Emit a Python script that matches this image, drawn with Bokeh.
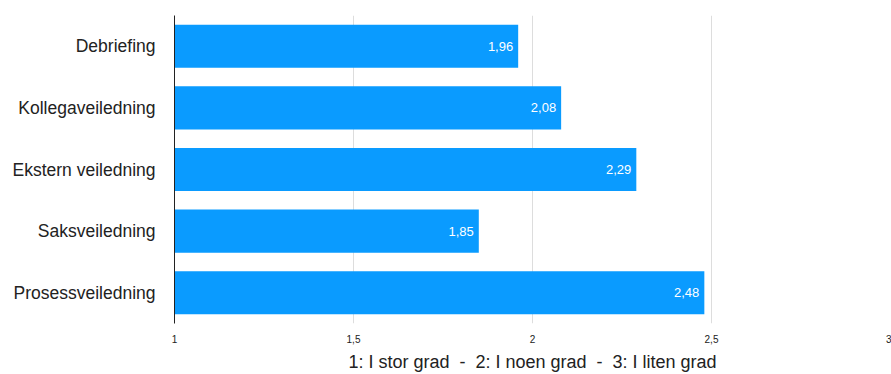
from bokeh.plotting import figure
from bokeh.models import ColumnDataSource, Range1d, FixedTicker, CustomJSTickFormatter, LabelSet
from bokeh.core.properties import value
from bokeh.embed import file_html
from bokeh.resources import INLINE

categories = ["Debriefing", "Kollegaveiledning", "Ekstern veiledning", "Saksveiledning", "Prosessveiledning"]
values = [1.96, 2.08, 2.29, 1.85, 2.48]
x_ticks = [1, 1.5, 2, 2.5, 3]
x_title = "1: I stor grad \u00a0-\u00a0 2: I noen grad \u00a0-\u00a0 3: I liten grad"

labels = [f"{v:.2f}".replace(".", ",") for v in values]
src = ColumnDataSource(dict(cat=categories, val=values, lab=labels, base=[1] * len(values)))

FONT = "Liberation Sans"

p = figure(width=891, height=374, y_range=list(reversed(categories)), x_range=Range1d(1, 3),
           output_backend="svg", toolbar_location=None,
           min_border_left=174, min_border_right=1, min_border_top=15, min_border_bottom=48)
p.outline_line_color = None

p.hbar(y="cat", left="base", right="val", height=0.7, source=src,
       fill_color="#0a9bff", line_color=None)

p.add_layout(LabelSet(x="val", y="cat", text="lab", source=src, x_offset=-5,
                      text_align="right", text_baseline="middle", text_color="white",
                      text_font=value(FONT), text_font_size="13px"))

p.xaxis.ticker = FixedTicker(ticks=x_ticks)
p.xaxis.formatter = CustomJSTickFormatter(code="return tick.toString().replace('.', ',');")
p.xaxis.axis_line_color = None
p.xaxis.major_tick_line_color = None
p.xaxis.minor_tick_line_color = None
p.xaxis.major_label_standoff = 5
p.xaxis.major_label_text_font = FONT
p.xaxis.major_label_text_font_size = "10px"
p.xaxis.major_label_text_color = "#222222"
p.xaxis.axis_label = x_title
p.xaxis.axis_label_text_font = FONT
p.xaxis.axis_label_text_font_style = "normal"
p.xaxis.axis_label_text_font_size = "18px"
p.xaxis.axis_label_text_color = "#222222"
p.xaxis.axis_label_standoff = 6

p.yaxis.axis_line_color = "#222222"
p.yaxis.axis_line_width = 1
p.yaxis.major_tick_line_color = None
p.yaxis.minor_tick_line_color = None
p.yaxis.major_label_standoff = 13
p.yaxis.major_label_text_font = FONT
p.yaxis.major_label_text_font_size = "17.5px"
p.yaxis.major_label_text_color = "#222222"

p.xgrid.grid_line_color = "#dddddd"
p.xgrid.ticker = FixedTicker(ticks=x_ticks)
p.ygrid.grid_line_color = None

open("out.html", "w").write(file_html(p, INLINE))
